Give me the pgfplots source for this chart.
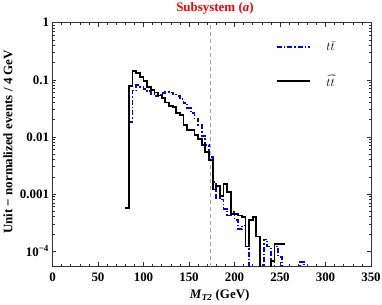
\documentclass[border=0pt]{standalone}
\usepackage{fontspec}
\setmainfont{Liberation Serif}
\usepackage{pgfplots}
\pgfplotsset{compat=1.18}
\newcommand{\fs}{\fontsize{13}{15}\selectfont\bfseries}
\begin{document}
\begin{tikzpicture}
\useasboundingbox (-52.5bp,-39bp) rectangle (329.5bp,266bp);
\begin{axis}[
  at={(0,0)}, anchor=south west,
  scale only axis, width=318.5bp, height=243.3bp,
  xmin=0, xmax=350, ymode=log, ymin=5.48e-5, ymax=1,
  axis line style={black!80, line width=0.6bp},
  every tick/.style={black!80, line width=0.5bp},
  tick align=inside,
  major tick length=4bp, minor tick length=2.5bp,
  xtick={0,50,...,350}, minor x tick num=4,
  ytick={1e-4,1e-3,1e-2,1e-1,1},
  yticklabels={10\textsuperscript{−4},0.001,0.01,0.1,1},
  /pgf/number format/assume math mode=true,
  xticklabel style={font=\fs, yshift=-3bp},
  yticklabel style={font=\fs},
  every axis title/.style={at={(axis description cs:0.51,1)}, anchor=south, yshift=5bp, font=\fs},
  title={\color{red}Subsystem (\textit{a})},
  every axis y label/.style={at={(axis description cs:-0.14,0.51)}, rotate=90, anchor=center, font=\fs},
  ylabel={Unit − normalized events / 4 GeV},
  every axis x label/.style={at={(axis description cs:0.525,-0.12)}, anchor=center, font=\fs},
  xlabel={\textit{M}\textsubscript{\textit{T2}} (GeV)},
  legend style={draw=none, fill=none, at={(axis description cs:0.70,0.93)}, anchor=north west,
    row sep=18bp, inner sep=0pt, font=\fontsize{13}{15}\selectfont,
    /tikz/every odd column/.append style={column sep=14bp}},
  legend image code/.code={\draw[#1] (0bp,0bp) -- (33bp,0bp);},
]
\addplot[gray!70, dash pattern=on 4bp off 3bp, line width=0.6bp, forget plot] coordinates {(173,1e-6) (173,10)};
\addplot[const plot, blue, line width=1.8bp, dash pattern=on 5bp off 2bp on 1.5bp off 2bp] coordinates {
(84,0.018) (88,0.065) (92,0.080) (96,0.075) (100,0.070) (104,0.064) (108,0.057) (112,0.052)
(116,0.055) (120,0.059) (124,0.062) (128,0.060) (132,0.057) (136,0.052) (140,0.046) (144,0.039)
(148,0.032) (152,0.026) (156,0.021) (160,0.016) (164,0.0105) (168,0.0072) (172,0.0045) (176,0.0016)
(180,0.00085) (184,0.0008) (188,0.00055) (192,0.00042) (196,0.00048) (200,0.00035) (204,0.00024) (208,0.00028)
(212,0.00012) (216,1e-6) (220,1e-6) (224,1e-6) (228,1e-6) (232,0.00016) (236,0.00012) (240,1e-6)
(244,0.00012) (248,0.00008) (252,1e-6) (256,1e-6) (260,1e-6) (264,1e-6) (268,1e-6) (272,6.5e-5) (276,1e-6)
};
\addlegendentry{$t\bar{t}$}
\addplot[const plot, black, line width=1.8bp] coordinates {
(80,5.6e-4) (84,0.077) (88,0.143) (92,0.13) (96,0.112) (100,0.095) (104,0.076) (108,0.066)
(112,0.060) (116,0.053) (120,0.048) (124,0.040) (128,0.035) (132,0.033) (136,0.026) (140,0.024)
(144,0.016) (148,0.0132) (152,0.0130) (156,0.0108) (160,0.0091) (164,0.0072) (168,0.0055) (172,0.0040)
(176,0.0012) (180,0.0014) (184,0.00092) (188,0.0015) (192,0.0011) (196,0.00045) (200,0.00045) (204,0.00042)
(208,0.00040) (212,0.00012) (216,0.00035) (220,0.00040) (224,0.00018) (228,1e-6) (232,1e-6) (236,1e-6)
(240,6.6e-5) (244,1.35e-4) (248,1.35e-4) (252,1.35e-4) (256,1.35e-4)
};
\addlegendentry{$\tilde{t}\bar{\tilde{t}}$}
\end{axis}
\end{tikzpicture}
\end{document}
